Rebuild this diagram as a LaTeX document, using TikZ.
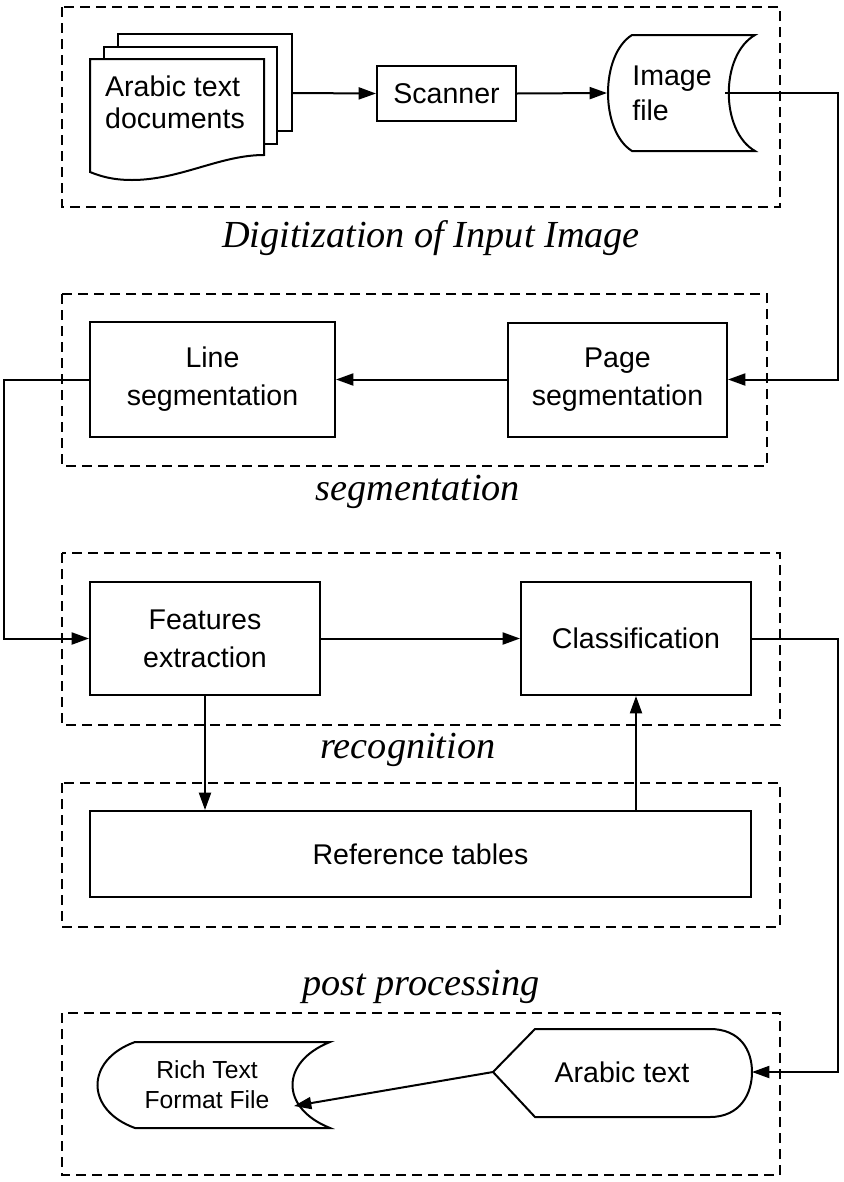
\documentclass[tikz,border=0pt]{standalone}
\usepackage{fontspec}
\setmainfont{Liberation Serif}
\setsansfont{Liberation Sans}
\usetikzlibrary{arrows.meta}
\begin{document}
\begin{tikzpicture}[x=0.75pt, y=-0.75pt, line width=1.5pt,
  box/.style={draw, rectangle, inner sep=0pt, align=center, font=\sffamily\fontsize{21.4}{28.5}\selectfont},
  txt/.style={inner sep=0pt, align=left, font=\sffamily\fontsize{21.4}{28.5}\selectfont},
  frame/.style={dash pattern=on 7.5pt off 4.5pt},
  stage/.style={inner sep=0pt, font=\itshape\fontsize{28.7}{32}\selectfont},
  arr/.style={-{Triangle[length=13pt,width=9pt]}}]

\useasboundingbox (0,0) rectangle (843,1182);

% dashed frames
\draw[frame] (62,7) rectangle (780,207);
\draw[frame] (62,294) rectangle (767,466);
\draw[frame] (62,553) rectangle (780,725);
\draw[frame] (62,783) rectangle (780,927);
\draw[frame] (62,1013) rectangle (780,1175);

\node[stage] (digit) at (431,238) {Digitization of Input Image};
\node[stage] (segm) at (418,492) {segmentation};
\node[stage] (recog) at (408,750) {recognition};
\node[stage] (post) at (421,987) {post processing};

% documents
\draw[fill=white] (118,34) rectangle (292,131);
\draw[fill=white] (104,47) rectangle (277,144);
\draw[fill=white] (90,59) -- (264,59) -- (264,155) .. controls (220,155) and (180,180) .. (132,180) .. controls (112,180) and (100,176) .. (90,172) -- cycle;
\node[txt, font=\sffamily\fontsize{21.4}{24}\selectfont] (docs) at (175,102) {Arabic text\\documents};
\coordinate (docs out) at (292,93);

\node[box, minimum width=104.25pt, minimum height=41.25pt] (scan) at (446.5,93.5) {Scanner};

% image file
\draw (632,35) -- (755,35) .. controls (720,55) and (720,131) .. (755,151) -- (632,151) .. controls (600,131) and (600,55) .. (632,35) -- cycle;
\node[txt, font=\sffamily\fontsize{21.4}{26}\selectfont] (img) at (672,93) {Image\\file};
\coordinate (img in) at (607,93);
\coordinate (img out) at (725,93);

\node[box, minimum width=183.75pt, minimum height=86.25pt] (line) at (212.5,379.5) {Line\\segmentation};
\node[box, minimum width=164.25pt, minimum height=85.5pt] (page) at (617.5,379.5) {Page\\segmentation};

\node[box, minimum width=172.5pt, minimum height=84.75pt] (feat) at (205,638.5) {Features\\extraction};
\node[box, minimum width=172.5pt, minimum height=84.75pt] (class) at (636,638.5) {Classification};

\node[box, minimum width=495.75pt, minimum height=64.5pt] (ref) at (420.5,854) {Reference tables};

% arabic text display
\draw (493,1072) -- (535,1029) -- (710,1029) .. controls (740,1029) and (752,1050) .. (752,1072) .. controls (752,1094) and (740,1117) .. (710,1117) -- (535,1117) -- cycle;
\node[txt] (disp) at (622,1072) {Arabic text};
\coordinate (disp west) at (493,1072);
\coordinate (disp east) at (752,1072);

% rich text file
\draw (135,1042) -- (330,1042) .. controls (280,1062) and (280,1108) .. (330,1128) -- (135,1128) .. controls (85,1110) and (85,1060) .. (135,1042) -- cycle;
\node[txt, align=center, font=\sffamily\fontsize{18.5}{22.5}\selectfont] (rtf) at (207,1085) {Rich Text\\Format File};
\coordinate (rtf in) at (294,1106);

% connectors
\draw[arr] (docs out) -- (scan.west);
\draw[arr] (scan.east) -- (img in);
\draw[arr] (img out) -- ++(113,0) |- (page.east);
\draw[arr] (page.west) -- (line.east);
\draw[arr] (line.west) -- ++(-85,0) |- (feat.west);
\draw[arr] (feat.east) -- (class.west);
\draw[arr] (feat.south) -- (feat.south |- ref.north);
\draw[arr] (class.south |- ref.north) -- (class.south);
\draw[arr] (class.east) -- ++(86,0) |- (disp east);
\draw[arr] (disp west) -- (rtf in);
\end{tikzpicture}
\end{document}
